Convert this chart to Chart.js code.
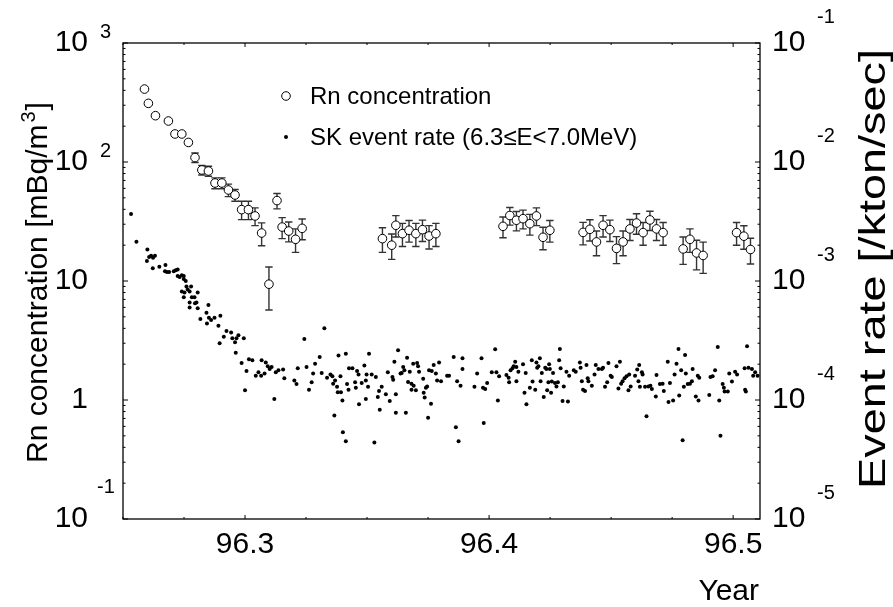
<!DOCTYPE html>
<html><head><meta charset="utf-8">
<script src="https://cdn.jsdelivr.net/npm/chart.js@4/dist/chart.umd.min.js"></script>
<style>html,body{margin:0;padding:0;background:#fff}#wrap{width:893px;height:607px;position:relative}</style>
</head><body><div id="wrap"><canvas id="c" width="893" height="607"></canvas></div>
<script>
// ---------------- data ----------------
const rnYear = [96.2588,96.2604,96.2633,96.2686,96.2713,96.2741,96.2768,96.2795,96.2823,96.2850,96.2877,96.2905,96.2932,96.2959,96.2986,96.3014,96.3041,96.3068,96.3098,96.3131,96.3152,96.3179,96.3207,96.3234,
 96.3563,96.3601,96.3618,96.3645,96.3672,96.3700,96.3727,96.3754,96.3782,
 96.4057,96.4085,96.4112,96.4139,96.4167,96.4194,96.4221,96.4249,
 96.4385,96.4413,96.4440,96.4467,96.4495,96.4522,96.4549,96.4577,96.4604,96.4631,96.4659,96.4686,96.4713,
 96.4795,96.4823,96.4850,96.4877,
 96.5014,96.5044,96.5071];
const rnConc = [410,311,245,221,172,172,146,109,85.7,84,66.6,66.6,58.2,52.8,39.8,39.8,35.2,25.3,9.4,47.4,28.4,26.3,22.4,27.7,
 22.7,20.0,29.4,25.0,26.7,25.0,27.0,23.9,25.0,
 28.8,35.5,32.4,33.4,30.3,35.2,23.3,26.7,
 25.6,27.2,21.3,29.4,27.0,18.8,21.3,27.4,30.7,25.5,32.6,27.4,25.5,
 18.6,22.4,17.2,16.4,
 25.5,23.8,18.4];
const rnErr = [10,8,7,7,6,6,6,10,8,8,7,7,7,6,7,7,6,5.5,3.7,7,5.7,5,5,5.5,
 5.3,4.8,6,5.5,5.5,5.5,5.5,5.3,5.5,
 5.7,6,6,6,6,6,5,5.5,
 5.5,5.5,5,6,5.5,4.8,5,5.5,6,5.5,6,5.5,5.5,
 4.8,5,4.8,4.8,
 5.5,5.3,4.5];

const skYear = [96.2533,96.2555,96.2600,96.2598,96.2607,96.2615,96.2623,96.2631,96.2622,96.2649,96.2674,96.2672,96.2680,96.2689,96.2708,96.2716,96.2724,96.2724,96.2732,96.2741,
 96.2749,96.2749,96.2757,96.2741,96.2752,96.2760,96.2765,96.2779,96.2773,96.2749,96.2782,96.2793,96.2801,96.2773,96.2795,96.2806,96.2773,96.2806,96.2817,96.2842,
 96.2850,96.2852,96.2844,96.2861,96.2875,96.2891,96.2899,96.2896,96.2913,96.2924,96.2943,96.2948,96.2959,96.2965,96.2973,96.2962,96.2995,96.2986,96.3006,96.3000,
 96.3016,96.3030,96.3044,96.3055,96.3068,96.3066,96.3080,96.3085,96.3093,96.3101,96.3109,96.3120,96.3126,96.3137,96.3156,96.3161,96.3202,96.3211,96.3216,96.3243,
 96.3252,96.3262,96.3273,96.3279,96.3287,96.3306,96.3314,96.3325,96.3336,96.3350,96.3358,96.3361,96.3369,96.3377,96.3380,96.3383,96.3391,96.3393,96.3399,96.3366,
 96.3413,96.3418,96.3424,96.3426,96.3440,96.3451,96.3454,96.3459,96.3465,96.3467,96.3478,96.3489,96.3495,96.3498,96.3495,96.3508,
 96.3519,96.3536,96.3504,96.3530,96.3544,96.3552,96.3549,96.3560,96.3577,96.3585,96.3593,96.3604,96.3607,96.3612,96.3618,96.3618,96.3627,96.3637,96.3642,96.3648,
 96.3653,96.3659,96.3664,96.3668,96.3675,96.3682,96.3682,96.3689,96.3691,96.3700,96.3705,96.3709,96.3713,96.3730,96.3732,96.3736,96.3741,96.3746,96.3750,96.3754,
 96.3762,96.3765,96.3773,96.3782,96.3787,96.3795,96.3803,96.3828,96.3836,96.3855,96.3864,96.3869,96.3875,96.3883,96.3891,96.3891,96.3940,96.3951,96.3969,96.3975,
 96.3978,96.3984,96.3992,96.4011,96.4025,96.4030,96.4036,96.4041,96.4071,96.4080,96.4082,96.4088,96.4096,96.4101,96.4107,96.4112,96.4112,96.4120,96.4139,96.4145,
 96.4150,96.4153,96.4167,96.4175,96.4178,96.4189,96.4194,96.4197,96.4202,96.4208,96.4211,96.4216,96.4224,96.4230,96.4235,96.4238,96.4243,96.4246,96.4249,96.4254,
 96.4257,96.4262,96.4270,96.4276,96.4282,96.4287,96.4290,96.4293,96.4301,96.4306,96.4317,96.4323,96.4328,96.4347,96.4355,96.4372,96.4375,96.4380,96.4385,96.4393,
 96.4399,96.4404,96.4407,96.4421,96.4432,96.4437,96.4448,96.4462,96.4467,96.4475,96.4484,96.4489,96.4498,96.4503,96.4522,96.4530,96.4536,96.4541,96.4547,96.4555,
 96.4563,96.4571,96.4574,96.4580,96.4598,96.4607,96.4612,96.4615,96.4618,96.4626,96.4629,96.4639,96.4645,96.4653,96.4661,96.4667,96.4683,96.4686,96.4700,96.4711,
 96.4716,96.4732,96.4735,96.4741,96.4754,96.4760,96.4768,96.4776,96.4779,96.4787,96.4793,96.4798,96.4803,96.4806,96.4814,96.4823,96.4831,96.4834,96.4847,96.4855,
 96.4858,96.4861,96.4902,96.4907,96.4916,96.4926,96.4937,96.4943,96.4948,96.4957,96.4962,96.4965,96.4978,96.4984,96.4995,96.5008,96.5016,96.5047,96.5049,96.5052,
 96.5057,96.5063,96.5077,96.5082,96.5090,96.5100,96.3401,96.3413];
const skRate = [3.66e-3,2.14e-3,1.84e-3,1.47e-3,1.59e-3,1.63e-3,1.57e-3,1.63e-3,1.28e-3,1.32e-3,1.36e-3,1.21e-3,1.19e-3,1.19e-3,1.21e-3,1.23e-3,1.25e-3,1.10e-3,1.08e-3,1.12e-3,
 1.10e-3,1.04e-3,1.00e-3,8.15e-4,8.0e-4,9.0e-4,8.5e-4,9.0e-4,8.15e-4,7.3e-4,7.3e-4,7.3e-4,6.6e-4,6.6e-4,6.5e-4,8.0e-4,6.0e-4,5.9e-4,4.8e-4,5.4e-4,
 6.3e-4,4.9e-4,4.4e-4,4.7e-4,4.9e-4,4.2e-4,5.1e-4,3.0e-4,3.4e-4,3.8e-4,3.7e-4,3.3e-4,3.05e-4,3.3e-4,3.5e-4,2.5e-4,3.3e-4,2.05e-4,1.75e-4,1.21e-4,
 2.2e-4,2.16e-4,1.6e-4,1.71e-4,2.16e-4,1.6e-4,1.67e-4,2.07e-4,1.92e-4,1.82e-4,1.89e-4,1.02e-4,1.71e-4,1.78e-4,1.80e-4,1.52e-4,1.46e-4,1.36e-4,1.85e-4,3.26e-4,
 1.89e-4,1.22e-4,1.41e-4,1.67e-4,2.02e-4,2.3e-4,1.69e-4,4.0e-4,1.54e-4,1.64e-4,1.58e-4,1.37e-4,1.46e-4,1.29e-4,1.16e-4,2.36e-4,1.58e-4,1.16e-4,9.9e-5,7.4e-5,
 2.45e-4,1.36e-4,1.22e-4,1.85e-4,1.85e-4,1.41e-4,1.27e-4,1.75e-4,1.64e-4,9.2e-5,1.39e-4,1.95e-4,1.46e-4,1.64e-4,1.02e-4,2.45e-4,
 1.64e-4,1.56e-4,1.29e-4,4.4e-5,1.06e-4,8.3e-5,1.19e-4,1.29e-4,1.12e-4,1.71e-4,9.8e-5,1.56e-4,1.48e-4,2.1e-4,1.12e-4,7.8e-5,2.62e-4,1.67e-4,1.69e-4,1.89e-4,
 1.78e-4,7.8e-5,2.27e-4,1.42e-4,1.73e-4,1.37e-4,1.22e-4,2.02e-4,1.32e-4,1.21e-4,2.05e-4,1.92e-4,1.73e-4,1.51e-4,1.15e-4,1.05e-4,1.27e-4,1.30e-4,7.1e-5,1.78e-4,
 9.3e-5,1.75e-4,1.97e-4,1.67e-4,1.46e-4,2.07e-4,1.44e-4,1.6e-4,1.6e-4,2.3e-4,5.9e-5,1.44e-4,4.5e-5,1.32e-4,2.24e-4,1.82e-4,1.29e-4,1.67e-4,2.24e-4,1.27e-4,
 6.4e-5,1.24e-4,1.39e-4,1.71e-4,2.67e-4,1.71e-4,9.9e-5,1.58e-4,1.62e-4,1.54e-4,1.41e-4,1.78e-4,1.85e-4,1.92e-4,2.10e-4,1.44e-4,1.89e-4,1.73e-4,2.0e-4,1.15e-4,
 1.69e-4,9.2e-5,1.27e-4,2.16e-4,1.43e-4,1.22e-4,2.07e-4,1.87e-4,1.92e-4,2.24e-4,1.44e-4,1.69e-4,1.06e-4,1.87e-4,1.82e-4,1.21e-4,1.41e-4,2.0e-4,1.82e-4,1.15e-4,
 1.43e-4,1.69e-4,1.39e-4,1.30e-4,1.41e-4,2.16e-4,2.68e-4,1.85e-4,9.8e-5,1.30e-4,1.73e-4,9.7e-5,1.6e-4,1.78e-4,1.73e-4,2.07e-4,1.87e-4,1.44e-4,1.22e-4,1.19e-4,
 1.97e-4,1.52e-4,1.44e-4,1.32e-4,1.64e-4,1.97e-4,1.82e-4,1.82e-4,1.87e-4,1.29e-4,1.41e-4,2.05e-4,1.6e-4,1.56e-4,1.92e-4,1.25e-4,2.10e-4,1.37e-4,1.44e-4,1.52e-4,
 1.58e-4,1.21e-4,1.64e-4,1.30e-4,1.6e-4,1.80e-4,1.44e-4,1.97e-4,1.29e-4,1.71e-4,1.64e-4,1.29e-4,7.3e-5,1.30e-4,1.32e-4,1.24e-4,1.07e-4,1.62e-4,1.36e-4,1.37e-4,
 1.19e-4,2.10e-4,9.6e-5,1.39e-4,9.9e-5,1.64e-4,2.02e-4,2.68e-4,1.09e-4,1.78e-4,4.6e-5,1.29e-4,2.39e-4,1.67e-4,1.36e-4,1.37e-4,1.44e-4,1.82e-4,1.07e-4,1.6e-4,
 9.9e-5,1.54e-4,1.10e-4,1.56e-4,1.58e-4,1.78e-4,2.79e-4,9.9e-5,5.0e-5,1.36e-4,1.27e-4,1.18e-4,1.18e-4,1.67e-4,1.43e-4,1.73e-4,1.64e-4,1.85e-4,1.22e-4,1.18e-4,
 2.83e-4,1.87e-4,1.82e-4,1.6e-4,1.71e-4,1.6e-4,5.35e-5,4.5e-5];

const xMajorTicks = [96.3, 96.4, 96.5];
const xMinorTicks = [96.25, 96.275, 96.325, 96.35, 96.375, 96.425, 96.45, 96.475];
const leftDecades = [-1, 0, 1, 2, 3];
const leftTickText = [['10', '-1'], ['1', ''], ['10', ''], ['10', '2'], ['10', '3']];
const rightDecades = [-5, -4, -3, -2, -1];
const rightTickText = [['10', '-5'], ['10', '-4'], ['10', '-3'], ['10', '-2'], ['10', '-1']];
const rnLabel = 'Rn concentration';
const skLabel = 'SK event rate (6.3\u2264E<7.0MeV)';
const leftTitle = ['Rn concentration [mBq/m', '3', ']'];
const rightTitle = 'Event rate [/kton/sec]';
const xTitle = 'Year';

// ---------------- drawing helpers ----------------
const FONT = '"Liberation Sans", Arial, Helvetica, sans-serif';

const decor = {
  id: 'decor',
  beforeDatasetsDraw(chart) {
    const {ctx, scales: {x, yL}} = chart;
    ctx.save();
    ctx.strokeStyle = '#333';
    ctx.lineWidth = 1.4;
    rnYear.forEach((yr, i) => {
      const px = x.getPixelForValue(yr);
      const lo = yL.getPixelForValue(rnConc[i] - rnErr[i]);
      const hi = yL.getPixelForValue(rnConc[i] + rnErr[i]);
      ctx.beginPath();
      ctx.moveTo(px, lo); ctx.lineTo(px, hi);
      ctx.moveTo(px - 3.7, lo); ctx.lineTo(px + 3.7, lo);
      ctx.moveTo(px - 3.7, hi); ctx.lineTo(px + 3.7, hi);
      ctx.stroke();
    });
    ctx.restore();
  },
  afterDraw(chart) {
    const {ctx, chartArea: a, scales: {x, yL, yR}} = chart;
    ctx.save();
    ctx.strokeStyle = '#000';
    ctx.fillStyle = '#000';
    ctx.lineWidth = 1.3;
    ctx.strokeRect(a.left, a.top, a.right - a.left, a.bottom - a.top);

    // x ticks (bottom & top, inward)
    ctx.lineWidth = 1;
    ctx.beginPath();
    xMajorTicks.forEach(v => {
      const p = x.getPixelForValue(v);
      ctx.moveTo(p, a.bottom); ctx.lineTo(p, a.bottom - 4);
      ctx.moveTo(p, a.top); ctx.lineTo(p, a.top + 4);
    });
    xMinorTicks.forEach(v => {
      const p = x.getPixelForValue(v);
      ctx.moveTo(p, a.bottom); ctx.lineTo(p, a.bottom - 2);
      ctx.moveTo(p, a.top); ctx.lineTo(p, a.top + 2);
    });
    // y ticks
    leftDecades.forEach(d => {
      const p = yL.getPixelForValue(Math.pow(10, d));
      ctx.moveTo(a.left, p); ctx.lineTo(a.left + 5, p);
      if (d < leftDecades[leftDecades.length - 1]) {
        for (let m = 2; m <= 9; m++) {
          const q = yL.getPixelForValue(m * Math.pow(10, d));
          ctx.moveTo(a.left, q); ctx.lineTo(a.left + 2.5, q);
        }
      }
    });
    rightDecades.forEach(d => {
      const p = yR.getPixelForValue(Math.pow(10, d));
      ctx.moveTo(a.right, p); ctx.lineTo(a.right - 5, p);
      if (d < rightDecades[rightDecades.length - 1]) {
        for (let m = 2; m <= 9; m++) {
          const q = yR.getPixelForValue(m * Math.pow(10, d));
          ctx.moveTo(a.right, q); ctx.lineTo(a.right - 2.5, q);
        }
      }
    });
    ctx.stroke();

    // x tick labels
    ctx.font = '30px ' + FONT;
    ctx.textAlign = 'center';
    ctx.textBaseline = 'alphabetic';
    xMajorTicks.forEach(v => {
      ctx.fillText(v.toFixed(1), x.getPixelForValue(v), 553);
    });

    // left tick labels
    leftDecades.forEach((d, i) => {
      const p = yL.getPixelForValue(Math.pow(10, d));
      const [base, ex] = leftTickText[i];
      ctx.font = '30px ' + FONT;
      ctx.textAlign = 'right';
      ctx.textBaseline = 'middle';
      ctx.fillText(base, 88, p);
      if (ex) {
        ctx.font = '20px ' + FONT;
        ctx.textAlign = 'left';
        ctx.textBaseline = 'alphabetic';
        ctx.fillText(ex, d < 0 ? 97 : 100, d < 0 ? p - 26 : p - 5);
      }
    });
    // right tick labels
    rightDecades.forEach((d, i) => {
      const p = yR.getPixelForValue(Math.pow(10, d));
      const [base, ex] = rightTickText[i];
      ctx.font = '30px ' + FONT;
      ctx.textAlign = 'left';
      ctx.textBaseline = 'middle';
      ctx.fillText(base, 772, p);
      ctx.font = '20px ' + FONT;
      ctx.textBaseline = 'alphabetic';
      ctx.fillText(ex, 817, p - 20);
    });

    // x title
    ctx.font = '30px ' + FONT;
    ctx.textAlign = 'right';
    ctx.textBaseline = 'alphabetic';
    ctx.fillText(xTitle, 759, 600);

    // left title (rotated)
    ctx.save();
    ctx.translate(47, 463);
    ctx.rotate(-Math.PI / 2);
    ctx.textAlign = 'left';
    ctx.font = '30px ' + FONT;
    ctx.fillText(leftTitle[0], 0, 0);
    let w = ctx.measureText(leftTitle[0]).width;
    ctx.font = '20px ' + FONT;
    ctx.fillText(leftTitle[1], w + 2, -12);
    w += ctx.measureText(leftTitle[1]).width + 3;
    ctx.font = '30px ' + FONT;
    ctx.fillText(leftTitle[2], w, 0);
    ctx.restore();

    // right title (rotated, spans most of the plot height)
    ctx.save();
    ctx.font = '36px ' + FONT;
    const tw = ctx.measureText(rightTitle).width;
    const span = 440;
    ctx.translate(885, 489);
    ctx.rotate(-Math.PI / 2);
    ctx.scale(span / tw, 1);
    ctx.textAlign = 'left';
    ctx.fillText(rightTitle, 0, 0);
    ctx.restore();

    // legend
    ctx.font = '24px ' + FONT;
    ctx.textAlign = 'left';
    ctx.textBaseline = 'middle';
    ctx.beginPath();
    ctx.arc(286, 96, 4.3, 0, Math.PI * 2);
    ctx.fillStyle = '#fff'; ctx.fill();
    ctx.lineWidth = 1; ctx.strokeStyle = '#000'; ctx.stroke();
    ctx.fillStyle = '#000';
    ctx.fillText(rnLabel, 310, 97);
    ctx.beginPath();
    ctx.arc(286, 137, 2, 0, Math.PI * 2);
    ctx.fill();
    ctx.fillText(skLabel, 310, 138);
    ctx.restore();
  }
};

new Chart(document.getElementById('c'), {
  type: 'scatter',
  data: {
    datasets: [
      {
        label: rnLabel,
        data: rnYear.map((v, i) => ({x: v, y: rnConc[i]})),
        yAxisID: 'yL',
        pointRadius: 4.3, pointHoverRadius: 4.3,
        pointBorderWidth: 1, pointBorderColor: '#000', pointBackgroundColor: '#fff'
      },
      {
        label: skLabel,
        data: skYear.map((v, i) => ({x: v, y: skRate[i]})),
        yAxisID: 'yR',
        pointRadius: 2, pointHoverRadius: 2,
        pointBorderWidth: 0, pointBackgroundColor: '#000', pointBorderColor: '#000'
      }
    ]
  },
  options: {
    responsive: false,
    animation: false,
    events: [],
    layout: {padding: {top: 43, left: 0, right: 0, bottom: 0}},
    plugins: {legend: {display: false}, tooltip: {enabled: false}},
    scales: {
      x: {type: 'linear', position: 'bottom', min: 96.25, max: 96.511,
          grid: {display: false}, border: {display: false}, ticks: {display: false},
          afterFit(s) { s.height = 88; }},
      yL: {type: 'logarithmic', position: 'left', min: 0.1, max: 1000,
          grid: {display: false}, border: {display: false}, ticks: {display: false},
          afterFit(s) { s.width = 123; }},
      yR: {type: 'logarithmic', position: 'right', min: 1e-5, max: 1e-1,
          grid: {display: false}, border: {display: false}, ticks: {display: false},
          afterFit(s) { s.width = 133; }}
    }
  },
  plugins: [decor]
});
</script>
</body></html>
